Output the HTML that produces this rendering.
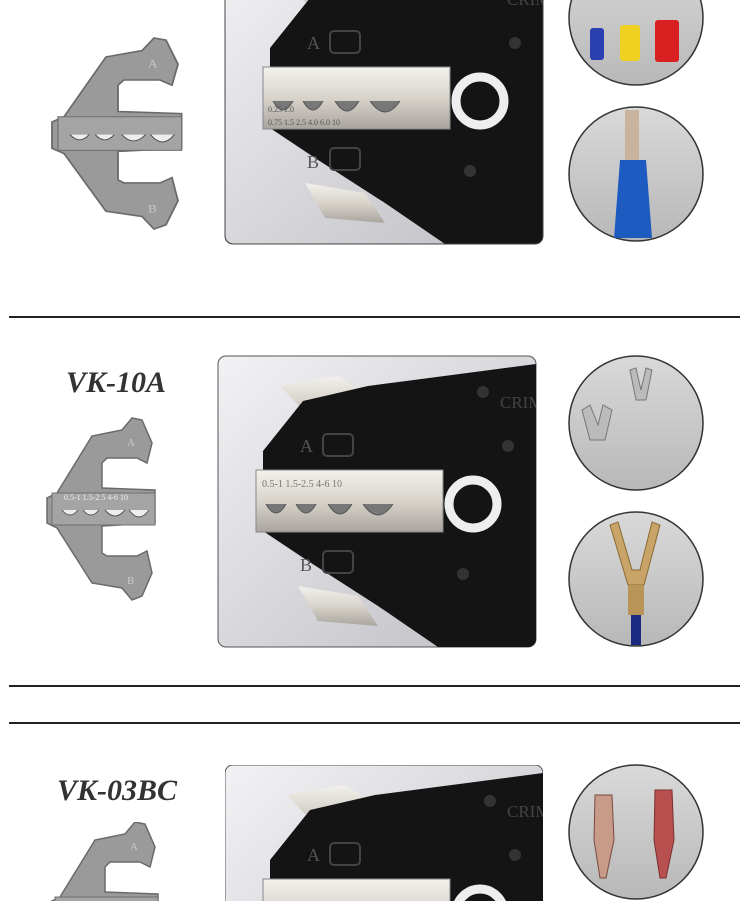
<!DOCTYPE html>
<html><head><meta charset="utf-8"><style>
html,body{margin:0;padding:0;background:#fff;width:750px;height:901px;overflow:hidden;}
svg{display:block;}
</style></head><body>
<svg width="750" height="901" viewBox="0 0 750 901" xmlns="http://www.w3.org/2000/svg" font-family="Liberation Serif, serif">
<defs>
<linearGradient id="bg" x1="0" y1="0" x2="1" y2="1">
<stop offset="0" stop-color="#f2f2f5"/><stop offset="1" stop-color="#bdbdc3"/></linearGradient>
<linearGradient id="silver" x1="0" y1="0" x2="0" y2="1">
<stop offset="0" stop-color="#f3f1ec"/><stop offset="0.5" stop-color="#d8d4cc"/><stop offset="1" stop-color="#a9a59e"/></linearGradient>
<linearGradient id="cg" x1="0" y1="0" x2="0" y2="1">
<stop offset="0" stop-color="#d9d9d9"/><stop offset="1" stop-color="#b8b8b8"/></linearGradient>
<clipPath id="pc"><rect x="0" y="0" width="318" height="291" rx="8"/></clipPath>
<g id="die">
<path d="M10,75 L45,18 L75,12 L85,0 L95,2 L105,25 L100,45 L90,40 L60,40 L55,45 L55,70 L108,72 L108,105 L55,108 L55,135 L60,138 L90,138 L100,133 L105,155 L95,178 L85,182 L75,170 L45,165 L10,110 L0,105 L0,80 Z" fill="#9a9a9a" stroke="#6a6a6a" stroke-width="1.5"/>
<rect x="5" y="75" width="103" height="32" fill="#a4a4a4" stroke="#707070"/>
<path d="M15,92 q8,10 16,0 M36,92 q8,10 16,0 M58,92 q10,12 20,0 M82,92 q10,14 20,0" fill="#eee" stroke="#555"/>
<text x="80" y="28" font-size="11" fill="#c8c8c8">A</text>
<text x="80" y="166" font-size="11" fill="#c8c8c8">B</text>
</g>
<g id="tool">
<rect x="0" y="0" width="318" height="291" rx="8" fill="url(#bg)" stroke="#555" stroke-width="1"/>
<g clip-path="url(#pc)">
<path d="M62,30 L120,20 L150,40 L100,70 Z" fill="url(#silver)"/>
<path d="M45,95 L85,45 L150,30 L318,8 L318,291 L220,291 L160,250 L90,205 L45,175 Z" fill="#141414"/>
<path d="M80,230 L140,240 L160,270 L100,265 Z" fill="url(#silver)"/>
<rect x="38" y="114" width="187" height="62" fill="url(#silver)" stroke="#888"/>
<path d="M48,148 q10,18 20,0 M78,148 q10,18 20,0 M110,148 q12,20 24,0 M145,148 q15,22 30,0" fill="#777" stroke="#555"/>
<circle cx="255" cy="148" r="24" fill="none" stroke="#eee" stroke-width="9"/>
<rect x="105" y="78" width="30" height="22" rx="4" fill="none" stroke="#444" stroke-width="2"/>
<rect x="105" y="195" width="30" height="22" rx="4" fill="none" stroke="#444" stroke-width="2"/>
<text x="82" y="96" font-size="18" fill="#555">A</text>
<text x="82" y="215" font-size="18" fill="#555">B</text>
<text x="282" y="52" font-size="17" fill="#444">CRIMP</text>
<circle cx="265" cy="36" r="6" fill="#333"/><circle cx="290" cy="90" r="6" fill="#333"/><circle cx="245" cy="218" r="6" fill="#333"/>
</g>
</g>
</defs>

<!-- Section 1 -->
<use href="#die" transform="translate(52,38) scale(1.2,1.05)"/>
<svg x="225" y="0" width="318" height="244"><g transform="translate(0,-47)"><use href="#tool"/></g></svg>
<rect x="225" y="-10" width="318" height="254" rx="8" fill="none" stroke="#444"/>
<g font-size="8" fill="#555"><text x="268" y="112">0.25 1.0</text><text x="268" y="125">0.75 1.5 2.5 4.0 6.0 10</text></g>
<circle cx="636" cy="18" r="67" fill="url(#cg)" stroke="#333" stroke-width="1.5"/>
<rect x="590" y="28" width="14" height="32" rx="3" fill="#2a3fb0"/>
<rect x="620" y="25" width="20" height="36" rx="3" fill="#f0d020"/>
<rect x="655" y="20" width="24" height="42" rx="3" fill="#d82020"/>
<circle cx="636" cy="174" r="67" fill="url(#cg)" stroke="#333" stroke-width="1.5"/>
<rect x="625" y="110" width="14" height="50" fill="#c8b49a"/>
<path d="M620,160 L646,160 L652,238 L614,238 Z" fill="#1e5bc0"/>

<line x1="9" y1="317" x2="740" y2="317" stroke="#222" stroke-width="2"/>

<!-- Section 2 -->
<text x="116" y="392" text-anchor="middle" font-size="30" font-weight="bold" font-style="italic" fill="#333">VK-10A</text>
<use href="#die" transform="translate(47,418)"/>
<g font-size="8" fill="#eee"><text x="64" y="500">0.5-1 1.5-2.5 4-6 10</text></g>
<g transform="translate(218,356)"><use href="#tool"/></g>
<g font-size="10" fill="#777"><text x="262" y="487">0.5-1 1.5-2.5  4-6      10</text></g>
<circle cx="636" cy="423" r="67" fill="url(#cg)" stroke="#333" stroke-width="1.5"/>
<path d="M582,410 L590,440 L605,440 L612,410 L603,405 L598,425 L590,405 Z" fill="#bbb" stroke="#777"/>
<path d="M630,370 L636,400 L646,400 L652,370 L646,368 L641,390 L636,368 Z" fill="#bbb" stroke="#777"/>
<circle cx="636" cy="579" r="67" fill="url(#cg)" stroke="#333" stroke-width="1.5"/>
<path d="M610,525 L628,585 L644,585 L660,525 L652,522 L640,570 L632,570 L618,522 Z" fill="#c8a468" stroke="#8a6a30"/>
<rect x="628" y="585" width="16" height="30" fill="#b89458"/>
<rect x="631" y="615" width="10" height="30" fill="#1a2a80"/>

<line x1="9" y1="686" x2="740" y2="686" stroke="#222" stroke-width="2"/>
<line x1="9" y1="723" x2="740" y2="723" stroke="#222" stroke-width="2"/>

<!-- Section 3 -->
<text x="117" y="800" text-anchor="middle" font-size="30" font-weight="bold" font-style="italic" fill="#333">VK-03BC</text>
<svg x="0" y="822" width="220" height="79"><use href="#die" transform="translate(50,0)"/></svg>
<svg x="225" y="765" width="318" height="136"><use href="#tool"/></svg>
<circle cx="636" cy="832" r="67" fill="url(#cg)" stroke="#333" stroke-width="1.5"/>
<path d="M595,795 L612,795 L614,840 L606,878 L600,878 L594,840 Z" fill="#c89a88" stroke="#7a4a40"/>
<path d="M655,790 L672,790 L674,840 L666,878 L660,878 L654,840 Z" fill="#b85050" stroke="#7a3030"/>
</svg>
</body></html>
